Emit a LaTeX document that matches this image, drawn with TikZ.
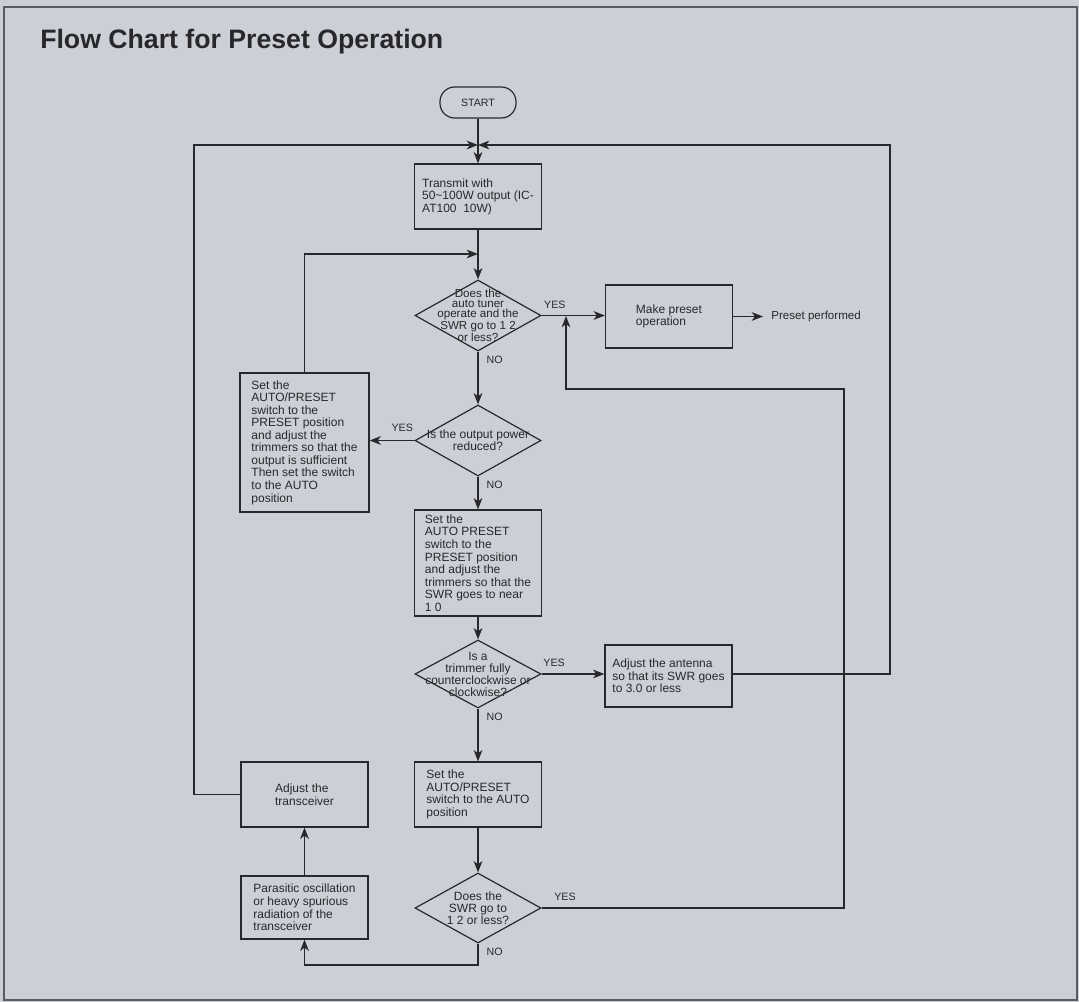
\documentclass[tikz,border=0pt]{standalone}
\usepackage{fontspec}
\setmainfont{Liberation Sans}
\usetikzlibrary{positioning, arrows.meta, shapes.geometric}
\definecolor{paper}{RGB}{204,207,213}
\definecolor{ink}{RGB}{40,40,44}
\definecolor{framegray}{RGB}{90,90,96}

\begin{document}
\begin{tikzpicture}[
  x=0.75pt, y=-0.75pt,
  box/.style={draw=ink, line width=0.9pt, minimum width=95.25pt, align=left,
              text=ink, font=\fontsize{9}{9.4}\selectfont, inner sep=2pt},
  decision/.style={draw=ink, line width=0.9pt, diamond, minimum width=94.5pt,
                   minimum height=53.25pt, inner sep=0pt},
  dtext/.style={align=center, text=ink, font=\fontsize{9}{9}\selectfont, inner sep=0pt},
  answer/.style={text=ink, font=\fontsize{8}{9}\selectfont, inner sep=0pt},
  arrow/.style={-{Stealth[length=8.5pt, width=6.5pt, inset=2.5pt]}, line width=0.9pt, draw=ink}
]
  \useasboundingbox (0,0) rectangle (1079,1002);
  \fill[paper] (0,0) rectangle (1079,1002);
  \draw[framegray, line width=0.8pt] (4,7) rectangle (1077,1000);
  \node[anchor=base west, text=ink, inner sep=0pt,
        font=\bfseries\fontsize{20}{22}\selectfont] (title) at (40,49) {Flow Chart for Preset Operation};

  \node[box, rounded corners=11pt, minimum width=57pt, minimum height=23.25pt,
        align=center, font=\fontsize{8}{9}\selectfont] (start) at (478,102.5) {START};
  \node[box, minimum height=48.75pt] (tx) at (478,196.5) {Transmit with\\50\textasciitilde100W output (IC-\\AT100\ \ 10W)};
  \node[decision] (tuner) at (478,315.5) {};
  \node[dtext, font=\fontsize{8.7}{7.6}\selectfont] (tunerq) at (tuner) {Does the\\auto tuner\\operate and the\\SWR go to 1 2\\or less?};
  \node[box, minimum height=47.25pt] (make) at (669,316.5) {Make preset\\operation};
  \node[answer, anchor=west, inner xsep=6pt, font=\fontsize{8.7}{9}\selectfont] (done) at (763,316.5) {Preset performed};
  \node[decision] (power) at (478,440.5) {};
  \node[dtext] (powerq) at (power) {Is the output power\\reduced?};
  \node[box, minimum width=96.75pt, minimum height=104.25pt] (sufficient) at (304.5,442.5) {Set the\\AUTO/PRESET\\switch to the\\PRESET position\\and adjust the\\trimmers so that the\\output is sufficient\\Then set the switch\\to the AUTO\\position};
  \node[box, minimum height=79.5pt] (nearone) at (478,563) {Set the\\AUTO PRESET\\switch to the\\PRESET position\\and adjust the\\trimmers so that the\\SWR goes to near\\1 0};
  \node[decision, minimum height=51pt] (trimmer) at (478,674) {};
  \node[dtext] (trimmerq) at (trimmer) {Is a\\trimmer fully\\counterclockwise or\\clockwise?};
  \node[box, minimum height=46.5pt] (antenna) at (668.5,676) {Adjust the antenna\\so that its SWR goes\\to 3.0 or less};
  \node[box, minimum height=48.75pt] (setauto) at (478,794.5) {Set the\\AUTO/PRESET\\switch to the AUTO\\position};
  \node[decision, minimum height=52.5pt] (swr) at (478,908) {};
  \node[dtext] (swrq) at (swr) {Does the\\SWR go to\\1 2 or less?};
  \node[box, minimum height=48.75pt] (adjust) at (304.5,794.5) {Adjust the\\transceiver};
  \node[box, minimum height=47.25pt] (parasitic) at (304.5,907.5) {Parasitic oscillation\\or heavy spurious\\radiation of the\\transceiver};

  \coordinate (join) at (478,145);
  \coordinate (merge) at (478,254);
  \coordinate (back) at (566,316);

  \draw[arrow] (start) -- (tx);
  \draw[arrow] (tx) -- (tuner);
  \draw[arrow] (tuner.east) -- node[answer, pos=0.21, above=5pt] {YES} (make.west |- tuner.east);
  \draw[arrow] (make.east |- done.west) -- (done.west);
  \draw[arrow] (tuner) -- node[answer, pos=0.15, right=6pt] {NO} (power);
  \draw[arrow] (power.west) -- node[answer, pos=0.27, above=6pt] {YES} (power.west -| sufficient.east);
  \draw[arrow] (sufficient.north) |- (merge);
  \draw[arrow] (power) -- node[answer, pos=0.26, right=6pt] {NO} (nearone);
  \draw[arrow] (nearone) -- (trimmer);
  \draw[arrow] (trimmer.east) -- node[answer, pos=0.2, above=5pt] {YES} (antenna.west |- trimmer.east);
  \draw[arrow] (antenna.east |- trimmer.east) -| (890,145) -- (join);
  \draw[arrow] (trimmer) -- node[answer, pos=0.16, right=6pt] {NO} (setauto);
  \draw[arrow] (setauto) -- (swr);
  \draw[arrow] (swr.east) -- node[answer, pos=0.04, above=5pt, anchor=south west] {YES} (844,908) |- (566,389) -- (back);
  \draw[arrow] (swr.south) -- node[answer, pos=0.4, right=6pt] {NO} (478,965) -| (parasitic.south);
  \draw[arrow] (parasitic) -- (adjust);
  \draw[arrow] (adjust.west) -| (194,145) -- (join);
\end{tikzpicture}
\end{document}
